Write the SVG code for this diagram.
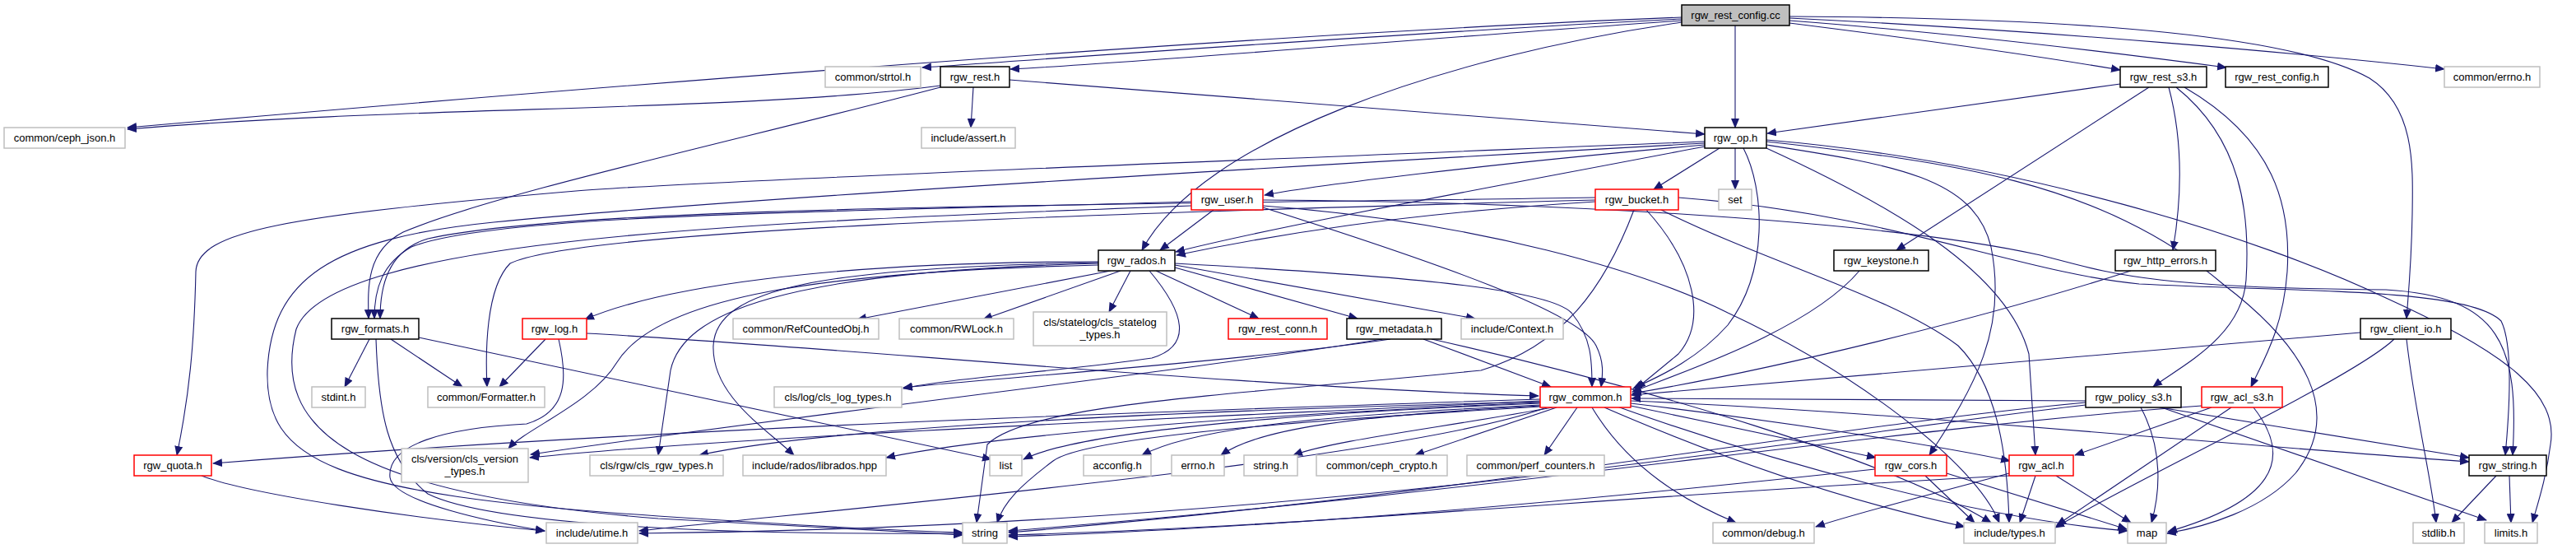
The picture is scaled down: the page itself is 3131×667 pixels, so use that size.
<svg xmlns="http://www.w3.org/2000/svg" width="3131" height="667" viewBox="0 0 3131 667">
<defs>
<marker id="a" markerWidth="12" markerHeight="10" refX="11" refY="5" orient="auto" markerUnits="userSpaceOnUse"><path d="M0,0 L12,5 L0,10 z" fill="#191970"/></marker>
<style>
.e path{fill:none;stroke:#191970;stroke-width:1.1;marker-end:url(#a)}
g.n rect{fill:#fff;stroke:#bfbfbf;stroke-width:1.5}
g.b rect{fill:#fff;stroke:#000;stroke-width:1.5}
g.r rect{fill:#fff;stroke:#ff0000;stroke-width:1.5}
g.root rect{fill:#bfbfbf;stroke:#000;stroke-width:1.5}
text{font-family:"Liberation Sans",Arial,sans-serif;font-size:13px;fill:#000;text-anchor:middle}
</style>
</defs>
<rect width="3131" height="667" fill="#fff"/>
<g class="e" id="edges">
<path d="M2044,21 C1600,38 900,90 155,155"/>
<path d="M2044,23 C1700,40 1300,70 1121,82"/>
<path d="M2044,25 C1750,45 1400,75 1228,84"/>
<path d="M2109,31 L2109,155"/>
<path d="M2044,27 C1750,70 1460,170 1388,304"/>
<path d="M2175,28 C2350,50 2500,72 2577,85"/>
<path d="M2175,25 C2400,42 2600,68 2706,82"/>
<path d="M2175,22 C2500,38 2800,65 2971,84"/>
<path d="M2175,20 C2550,22 2790,45 2880,95 C2935,130 2933,200 2932,260 C2931,320 2927,360 2925,387"/>
<path d="M1143,104 C900,136 500,128 155,157"/>
<path d="M1183,106 L1180,155"/>
<path d="M1227,97 L2072,163"/>
<path d="M1143,106 C900,170 600,235 490,282 C445,305 447,350 448,387"/>
<path d="M2577,102 L2148,162"/>
<path d="M2612,106 L2305,304"/>
<path d="M2636,106 C2653,170 2652,240 2641,304"/>
<path d="M2645,106 C2725,170 2735,260 2730,340 C2725,410 2650,445 2617,470"/>
<path d="M2655,106 C2765,170 2785,250 2780,330 C2775,400 2750,440 2736,470"/>
<path d="M2869,404 L1983,480"/>
<path d="M2910,412 C2860,460 2600,580 2498,641"/>
<path d="M2925,412 C2935,500 2955,580 2961,635"/>
<path d="M2072,172 C1500,195 850,220 700,232 C350,262 240,280 238,330 C236,420 230,480 215,553"/>
<path d="M2072,174 C1600,200 900,240 600,270 C400,290 330,340 325,450 C322,560 400,600 800,627 C950,637 1100,645 1170,647"/>
<path d="M2072,176 C1800,200 1600,225 1537,237"/>
<path d="M2072,178 C1800,230 1550,275 1429,306"/>
<path d="M2090,180 L2010,230"/>
<path d="M2109,180 L2109,230"/>
<path d="M2119,180 C2145,230 2150,330 2100,395 C2060,440 2010,460 1985,472"/>
<path d="M2147,172 C2350,195 2550,215 2703,346 C2800,420 2850,500 2790,575 C2750,620 2680,640 2634,648"/>
<path d="M2147,170 C2450,195 2750,290 2900,362 C3050,430 3110,480 3100,540 C3095,580 3085,610 3078,635"/>
<path d="M2147,176 C2300,200 2400,215 2420,300 C2440,400 2400,470 2345,553"/>
<path d="M2147,180 C2300,250 2440,330 2466,430 L2474,553"/>
<path d="M1475,255 L1410,304"/>
<path d="M1448,245 C1000,258 600,260 500,300 C465,320 455,350 455,387"/>
<path d="M1448,250 C900,270 400,290 360,400 C330,520 420,600 800,630 L1170,650"/>
<path d="M1535,243 C1900,245 2300,270 2480,310 C2560,330 2600,350 2900,352 C3040,360 3062,420 3054,553"/>
<path d="M1535,250 C1800,270 2000,330 2100,380 C2250,450 2400,560 2430,635"/>
<path d="M1535,252 C1750,320 1920,380 1940,420 C1950,440 1948,455 1946,470"/>
<path d="M1939,245 C1700,260 1550,285 1430,310"/>
<path d="M1939,240 C1300,250 700,250 520,290 C470,305 462,350 462,387"/>
<path d="M1939,243 C1300,260 700,280 620,320 C590,350 590,430 592,470"/>
<path d="M2001,255 C2060,320 2075,390 2040,430 L1989,472"/>
<path d="M1986,255 C1950,350 1900,420 1800,450 C1500,480 1250,490 1200,540 L1187,635"/>
<path d="M2040,240 C2300,260 2450,330 2600,345 C2800,355 3000,350 3040,390 C3055,420 3050,500 3045,553"/>
<path d="M2019,255 C2150,320 2300,360 2380,420 C2430,470 2440,560 2442,635"/>
<path d="M1350,329 L1042,388"/>
<path d="M1362,329 L1195,388"/>
<path d="M1374,329 L1348,379"/>
<path d="M1405,329 L1530,387"/>
<path d="M1428,325 L1650,387"/>
<path d="M1428,322 L1793,387"/>
<path d="M1428,320 C1700,335 1880,350 1910,380 C1935,410 1935,440 1935,470"/>
<path d="M1335,318 C1000,318 800,350 711,388"/>
<path d="M1335,319 C1000,325 870,350 867,420 C865,480 930,520 965,553"/>
<path d="M1335,320 C950,330 830,380 815,450 L800,553"/>
<path d="M1335,322 C1000,330 800,360 750,440 C720,490 640,520 618,545"/>
<path d="M1397,329 C1440,380 1450,420 1400,435 C1300,450 1150,460 1098,472"/>
<path d="M449,412 L419,470"/>
<path d="M475,412 L562,470"/>
<path d="M509,410 L1205,558"/>
<path d="M457,412 C460,500 470,560 520,600 C600,640 900,650 1170,648"/>
<path d="M663,412 L607,470"/>
<path d="M679,412 C690,460 690,500 640,515 C540,520 470,540 474,580 C478,610 600,635 662,645"/>
<path d="M713,405 C1000,420 1500,470 1870,481"/>
<path d="M245,578 C300,600 500,630 662,645"/>
<path d="M1690,412 C1500,440 1200,460 1098,471"/>
<path d="M1680,412 C1450,450 1000,500 645,552"/>
<path d="M1730,412 L1885,470"/>
<path d="M1740,412 C2000,470 2300,560 2420,635"/>
<path d="M1872,485 C1400,500 800,520 259,563"/>
<path d="M1872,487 C1400,510 900,530 644,556"/>
<path d="M1872,488 C1400,500 1000,520 850,553"/>
<path d="M1872,489 C1500,505 1200,530 1077,556"/>
<path d="M1872,490 C1500,505 1300,530 1244,558"/>
<path d="M1872,492 C1600,505 1450,520 1388,553"/>
<path d="M1872,493 C1650,505 1530,520 1484,553"/>
<path d="M1887,495 C1750,520 1620,535 1572,553"/>
<path d="M1892,495 L1720,553"/>
<path d="M1917,495 L1877,553"/>
<path d="M1935,495 C1980,570 2050,610 2110,635"/>
<path d="M1982,493 L2280,556"/>
<path d="M1982,490 C2150,510 2350,540 2443,560"/>
<path d="M1982,487 C2300,500 2700,540 3001,561"/>
<path d="M1950,495 C2100,560 2250,610 2388,640"/>
<path d="M1963,493 C2150,560 2400,630 2586,645"/>
<path d="M1872,494 C1600,510 1320,530 1280,560 C1240,590 1220,610 1212,635"/>
<path d="M1880,495 C1700,560 1000,620 777,645"/>
<path d="M2260,329 C2200,400 2050,450 1984,476"/>
<path d="M2590,329 C2400,390 2150,450 1984,478"/>
<path d="M2535,487 L1983,484"/>
<path d="M2535,489 C2200,520 1800,600 1226,647"/>
<path d="M2535,492 C2200,530 1600,640 777,648"/>
<path d="M2602,495 C2630,547 2625,600 2615,635"/>
<path d="M2625,495 L3001,556"/>
<path d="M2630,496 L3022,632"/>
<path d="M2688,495 L2522,553"/>
<path d="M2712,495 L2500,638"/>
<path d="M2739,495 C2790,560 2760,610 2635,646"/>
<path d="M2676,493 C2300,520 1800,600 1226,645"/>
<path d="M2474,578 L2455,635"/>
<path d="M2499,578 L2590,635"/>
<path d="M2442,575 C2350,600 2250,625 2207,640"/>
<path d="M2442,578 C2000,600 1600,640 1226,650"/>
<path d="M2279,570 C2000,600 1600,640 1226,652"/>
<path d="M2340,578 L2400,635"/>
<path d="M2366,575 L2585,643"/>
<path d="M3034,578 L2980,635"/>
<path d="M3050,578 L3052,635"/>
</g>
<g id="n_root" class="root"><rect x="2044" y="6" width="131" height="25"/><text x="2109.5" y="23">rgw_rest_config.cc</text></g>
<g id="n_ceph_json" class="n"><rect x="5" y="155" width="147" height="25"/><text x="78.5" y="172">common/ceph_json.h</text></g>
<g id="n_strtol" class="n"><rect x="1003" y="81" width="116" height="25"/><text x="1061" y="98">common/strtol.h</text></g>
<g id="n_rest" class="b"><rect x="1143" y="81" width="84" height="25"/><text x="1185" y="98">rgw_rest.h</text></g>
<g id="n_assert" class="n"><rect x="1120" y="155" width="114" height="25"/><text x="1177" y="172">include/assert.h</text></g>
<g id="n_op" class="b"><rect x="2072" y="155" width="75" height="25"/><text x="2109.5" y="172">rgw_op.h</text></g>
<g id="n_rest_s3" class="b"><rect x="2577" y="81" width="105" height="25"/><text x="2629.5" y="98">rgw_rest_s3.h</text></g>
<g id="n_rest_config_h" class="b"><rect x="2705" y="81" width="125" height="25"/><text x="2767.5" y="98">rgw_rest_config.h</text></g>
<g id="n_errno_c" class="n"><rect x="2971" y="81" width="116" height="25"/><text x="3029" y="98">common/errno.h</text></g>
<g id="n_user" class="r"><rect x="1448" y="230" width="87" height="25"/><text x="1491.5" y="247">rgw_user.h</text></g>
<g id="n_bucket" class="r"><rect x="1939" y="230" width="101" height="25"/><text x="1989.5" y="247">rgw_bucket.h</text></g>
<g id="n_set" class="n"><rect x="2089" y="230" width="40" height="25"/><text x="2109" y="247">set</text></g>
<g id="n_rados" class="b"><rect x="1335" y="304" width="93" height="25"/><text x="1381.5" y="321">rgw_rados.h</text></g>
<g id="n_keystone" class="b"><rect x="2229" y="304" width="115" height="25"/><text x="2286.5" y="321">rgw_keystone.h</text></g>
<g id="n_http_errors" class="b"><rect x="2571" y="304" width="122" height="25"/><text x="2632" y="321">rgw_http_errors.h</text></g>
<g id="n_formats" class="b"><rect x="403" y="387" width="106" height="25"/><text x="456" y="404">rgw_formats.h</text></g>
<g id="n_log" class="r"><rect x="635" y="387" width="78" height="25"/><text x="674" y="404">rgw_log.h</text></g>
<g id="n_refcounted" class="n"><rect x="891" y="387" width="177" height="25"/><text x="979.5" y="404">common/RefCountedObj.h</text></g>
<g id="n_rwlock" class="n"><rect x="1093" y="387" width="139" height="25"/><text x="1162.5" y="404">common/RWLock.h</text></g>
<g id="n_statelog" class="n"><rect x="1256" y="379" width="162" height="41"/><text x="1337" y="396">cls/statelog/cls_statelog</text><text x="1337" y="411">_types.h</text></g>
<g id="n_rest_conn" class="r"><rect x="1493" y="387" width="120" height="25"/><text x="1553" y="404">rgw_rest_conn.h</text></g>
<g id="n_metadata" class="b"><rect x="1637" y="387" width="115" height="25"/><text x="1694.5" y="404">rgw_metadata.h</text></g>
<g id="n_context" class="n"><rect x="1776" y="387" width="124" height="25"/><text x="1838" y="404">include/Context.h</text></g>
<g id="n_client_io" class="b"><rect x="2869" y="387" width="110" height="25"/><text x="2924" y="404">rgw_client_io.h</text></g>
<g id="n_stdint" class="n"><rect x="379" y="470" width="65" height="25"/><text x="411.5" y="487">stdint.h</text></g>
<g id="n_formatter" class="n"><rect x="520" y="470" width="142" height="25"/><text x="591" y="487">common/Formatter.h</text></g>
<g id="n_loglog" class="n"><rect x="941" y="470" width="155" height="25"/><text x="1018.5" y="487">cls/log/cls_log_types.h</text></g>
<g id="n_common" class="r"><rect x="1872" y="470" width="110" height="25"/><text x="1927" y="487">rgw_common.h</text></g>
<g id="n_policy" class="b"><rect x="2535" y="470" width="116" height="25"/><text x="2593" y="487">rgw_policy_s3.h</text></g>
<g id="n_acl_s3" class="r"><rect x="2676" y="470" width="98" height="25"/><text x="2725" y="487">rgw_acl_s3.h</text></g>
<g id="n_quota" class="r"><rect x="163" y="553" width="94" height="25"/><text x="210" y="570">rgw_quota.h</text></g>
<g id="n_version" class="n"><rect x="488" y="545" width="154" height="41"/><text x="565" y="562">cls/version/cls_version</text><text x="565" y="577">_types.h</text></g>
<g id="n_cls_rgw" class="n"><rect x="717" y="553" width="162" height="25"/><text x="798" y="570">cls/rgw/cls_rgw_types.h</text></g>
<g id="n_librados" class="n"><rect x="903" y="553" width="174" height="25"/><text x="990" y="570">include/rados/librados.hpp</text></g>
<g id="n_list" class="n"><rect x="1203" y="553" width="39" height="25"/><text x="1222.5" y="570">list</text></g>
<g id="n_acconfig" class="n"><rect x="1317" y="553" width="82" height="25"/><text x="1358" y="570">acconfig.h</text></g>
<g id="n_errno_h" class="n"><rect x="1424" y="553" width="64" height="25"/><text x="1456" y="570">errno.h</text></g>
<g id="n_string_h" class="n"><rect x="1512" y="553" width="65" height="25"/><text x="1544.5" y="570">string.h</text></g>
<g id="n_crypto" class="n"><rect x="1600" y="553" width="159" height="25"/><text x="1679.5" y="570">common/ceph_crypto.h</text></g>
<g id="n_perf" class="n"><rect x="1783" y="553" width="167" height="25"/><text x="1866.5" y="570">common/perf_counters.h</text></g>
<g id="n_cors" class="r"><rect x="2279" y="553" width="87" height="25"/><text x="2322.5" y="570">rgw_cors.h</text></g>
<g id="n_acl" class="r"><rect x="2442" y="553" width="78" height="25"/><text x="2481" y="570">rgw_acl.h</text></g>
<g id="n_rgw_string" class="b"><rect x="3001" y="553" width="94" height="25"/><text x="3048" y="570">rgw_string.h</text></g>
<g id="n_utime" class="n"><rect x="664" y="635" width="111" height="25"/><text x="719.5" y="652">include/utime.h</text></g>
<g id="n_string" class="n"><rect x="1170" y="635" width="54" height="25"/><text x="1197" y="652">string</text></g>
<g id="n_debug" class="n"><rect x="2082" y="635" width="123" height="25"/><text x="2143.5" y="652">common/debug.h</text></g>
<g id="n_types" class="n"><rect x="2387" y="635" width="111" height="25"/><text x="2442.5" y="652">include/types.h</text></g>
<g id="n_map" class="n"><rect x="2586" y="635" width="47" height="25"/><text x="2609.5" y="652">map</text></g>
<g id="n_stdlib" class="n"><rect x="2933" y="635" width="62" height="25"/><text x="2964" y="652">stdlib.h</text></g>
<g id="n_limits" class="n"><rect x="3020" y="635" width="64" height="25"/><text x="3052" y="652">limits.h</text></g>
</svg>
